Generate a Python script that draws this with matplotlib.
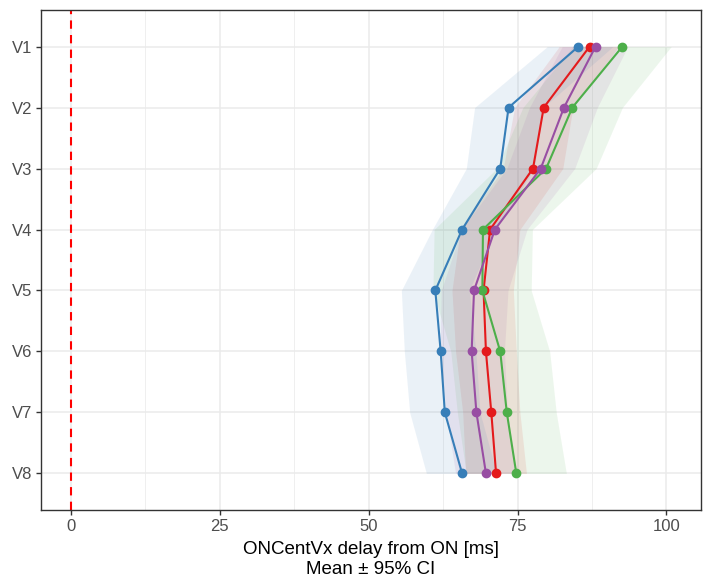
import numpy as np
import matplotlib
matplotlib.use('Agg')
from matplotlib import pyplot as plt

plt.rcParams['font.family'] = ['Liberation Sans', 'DejaVu Sans']

areas = ['V1', 'V2', 'V3', 'V4', 'V5', 'V6', 'V7', 'V8']

# mean delay and 95% CI per group (ms)
red_mean = [87.1, 79.4, 77.6, 70.4, 69.3, 69.7, 70.6, 71.4]
red_lo = [82.0, 74.5, 72.6, 65.4, 64.0, 64.6, 65.8, 66.3]
red_hi = [92.0, 84.3, 82.6, 75.4, 74.3, 74.8, 75.4, 76.5]

blue_mean = [85.2, 73.5, 72.1, 65.7, 61.2, 62.1, 62.8, 65.7]
blue_lo = [80.0, 67.8, 66.4, 60.7, 55.5, 56.0, 56.9, 59.7]
blue_hi = [91.0, 79.3, 77.8, 71.3, 66.9, 68.0, 68.7, 71.5]

green_mean = [92.6, 84.2, 79.8, 69.2, 69.1, 72.1, 73.2, 74.8]
green_lo = [84.3, 75.9, 71.5, 61.0, 60.8, 63.8, 64.9, 66.4]
green_hi = [100.8, 92.6, 88.2, 77.5, 77.3, 80.4, 81.5, 83.2]

purple_mean = [88.1, 82.8, 78.9, 71.2, 67.7, 67.3, 68.1, 69.7]
purple_lo = [82.5, 77.0, 73.2, 65.6, 62.2, 62.0, 63.0, 64.6]
purple_hi = [93.5, 88.4, 84.6, 76.6, 73.4, 72.8, 73.3, 74.8]

series = [
    (red_mean, red_lo, red_hi, '#E41A1C'),
    (blue_mean, blue_lo, blue_hi, '#377EB8'),
    (green_mean, green_lo, green_hi, '#4DAF4A'),
    (purple_mean, purple_lo, purple_hi, '#984EA3'),
]

fig = plt.figure(figsize=(7.04, 5.79), dpi=100)
ax = fig.add_axes([0.0582, 0.1192, 0.9375, 0.8635])

y = np.arange(len(areas))

for mean, lo, hi, col in series:
    ax.fill_betweenx(y, lo, hi, color=col, alpha=0.1, linewidth=0)
for mean, lo, hi, col in series:
    ax.plot(mean, y, color=col, lw=1.5, marker='o', ms=6, zorder=3)

ax.axvline(0, color='red', ls=(0, (4, 3)), lw=1.5, zorder=2)

ax.set_xlim(-5, 105.8)
ax.set_ylim(len(areas) - 1 + 0.6, -0.6)
ax.set_yticks(y)
ax.set_yticklabels(areas)
ax.set_xticks([0, 25, 50, 75, 100])
ax.set_xticks([12.5, 37.5, 62.5, 87.5], minor=True)

ax.grid(True, which='major', color='#EBEBEB', lw=1.1, zorder=0)
ax.grid(True, which='minor', axis='x', color='#EBEBEB', lw=0.55, zorder=0)
ax.set_axisbelow(True)
for s in ax.spines.values():
    s.set_color('#333333')
    s.set_linewidth(1.0)
ax.tick_params(which='major', color='#333333', length=3.5, width=1.0,
               labelcolor='#4D4D4D', labelsize=12, pad=3)
ax.tick_params(which='minor', length=0)

ax.set_xlabel('ONCentVx delay from ON [ms]\nMean \u00b1 95% CI', fontsize=13.5,
              color='black', labelpad=5, linespacing=1.2)

fig.savefig('out.png', dpi=100)
